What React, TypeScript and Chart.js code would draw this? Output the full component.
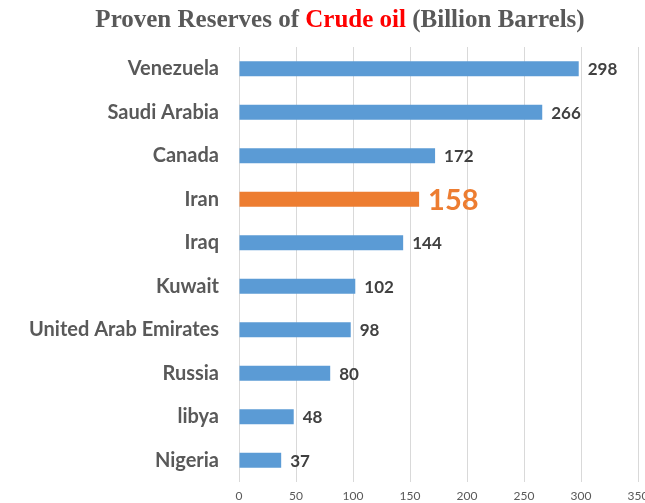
import React, { useEffect, useRef } from "react";
import { Chart, registerables } from "chart.js";

Chart.register(...registerables);

const countries = [
  "Venezuela",
  "Saudi Arabia",
  "Canada",
  "Iran",
  "Iraq",
  "Kuwait",
  "United Arab Emirates",
  "Russia",
  "libya",
  "Nigeria",
];
const reserves = [298, 266, 172, 158, 144, 102, 98, 80, 48, 37];
const highlighted = "Iran";
const titleParts = [
  { text: "Proven Reserves of ", accent: false },
  { text: "Crude oil", accent: true },
  { text: " (Billion Barrels)", accent: false },
];
const xTicks = [0, 50, 100, 150, 200, 250, 300, 350];

const BLUE = "#5B9BD5";
const ORANGE = "#ED7D31";
const GREY = "#595959";
const DARK = "#404040";
const SANS = "Lato, 'Open Sans', sans-serif";

const titlePlugin = {
  id: "multiTitle",
  afterDraw(chart: any) {
    const ctx = chart.ctx;
    ctx.save();
    ctx.font = "bold 25px 'Liberation Serif', 'Times New Roman', serif";
    ctx.textBaseline = "alphabetic";
    const widths = titleParts.map((p) => ctx.measureText(p.text).width);
    const total = widths.reduce((a, b) => a + b, 0);
    let x = 340 - total / 2;
    titleParts.forEach((p, i) => {
      ctx.fillStyle = p.accent ? "#FF0000" : GREY;
      ctx.textAlign = "left";
      ctx.fillText(p.text, x, 27);
      x += widths[i];
    });
    ctx.restore();
  },
};

const valueLabelPlugin = {
  id: "valueLabels",
  afterDatasetsDraw(chart: any) {
    const ctx = chart.ctx;
    const meta = chart.getDatasetMeta(0);
    ctx.save();
    meta.data.forEach((bar: any, i: number) => {
      const isHi = countries[i] === highlighted;
      ctx.font = isHi ? `bold 29px ${SANS}` : `bold 17px ${SANS}`;
      ctx.fillStyle = isHi ? ORANGE : DARK;
      ctx.textAlign = "left";
      ctx.textBaseline = "middle";
      ctx.fillText(String(reserves[i]), bar.x + 9, bar.y + 1);
    });
    ctx.restore();
  },
};

export default function App() {
  const ref = useRef<HTMLCanvasElement>(null);
  useEffect(() => {
    if (!ref.current) return;
    const chart = new Chart(ref.current, {
      type: "bar",
      data: {
        labels: countries,
        datasets: [
          {
            data: reserves,
            backgroundColor: countries.map((c) => (c === highlighted ? ORANGE : BLUE)),
            categoryPercentage: 1,
            barPercentage: 0.35,
          },
        ],
      },
      options: {
        indexAxis: "y",
        animation: false,
        responsive: false,
        devicePixelRatio: 1,
        layout: { padding: { top: 47, right: 7, left: 0, bottom: 0 } },
        plugins: {
          legend: { display: false },
          title: { display: false },
          tooltip: { enabled: false },
        },
        scales: {
          x: {
            min: 0,
            max: 350,
            afterBuildTicks(axis: any) {
              axis.ticks = xTicks.map((v) => ({ value: v }));
            },
            afterFit(axis: any) {
              axis.height = 21;
              axis.paddingLeft = 0;
              axis.paddingRight = 0;
            },
            grid: { color: "#D9D9D9", drawTicks: false, lineWidth: 1 },
            border: { display: false },
            ticks: {
              padding: 7,
              color: GREY,
              font: { family: SANS, size: 12 },
            },
          },
          y: {
            afterFit(axis: any) {
              axis.width = 239;
              axis.paddingTop = 0;
              axis.paddingBottom = 0;
            },
            grid: { display: false, drawTicks: false },
            border: { display: false },
            ticks: {
              padding: 20,
              color: GREY,
              font: { family: SANS, size: 20, weight: "bold" },
            },
          },
        },
      },
      plugins: [titlePlugin, valueLabelPlugin],
    });
    return () => chart.destroy();
  }, []);
  return (
    <div style={{ position: "absolute", left: 0, top: 0, width: 645, height: 503, background: "#fff" }}>
      <canvas ref={ref} width={645} height={503} />
    </div>
  );
}
